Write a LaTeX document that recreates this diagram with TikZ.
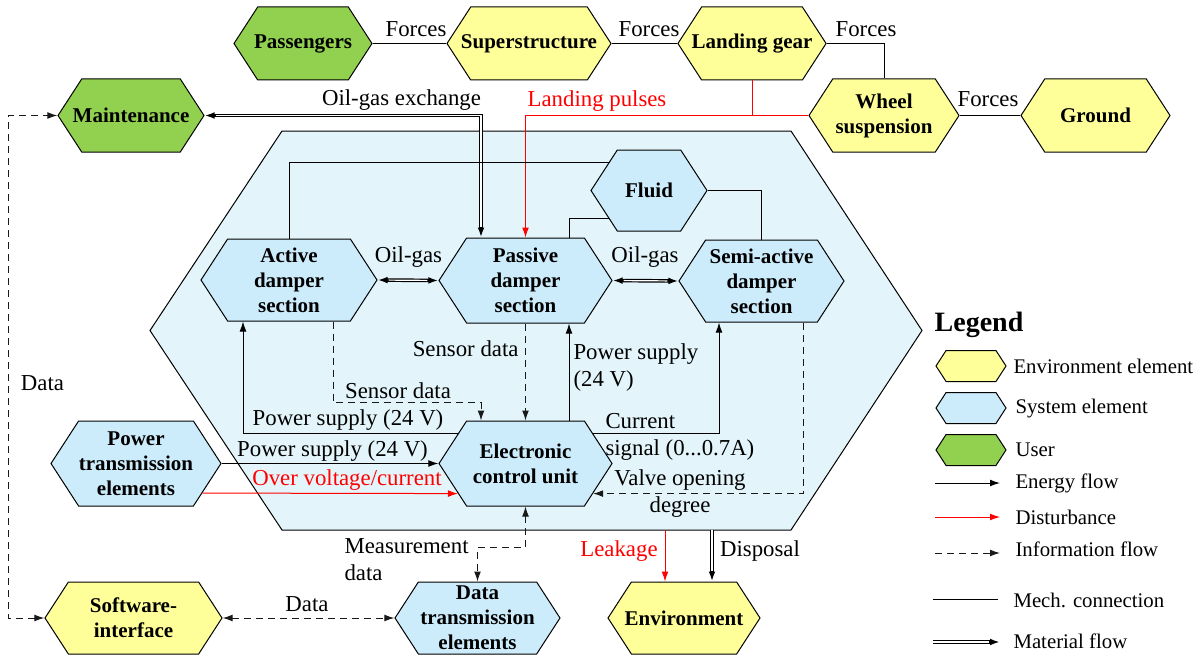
\documentclass[tikz,border=0pt]{standalone}
\usepackage{fontspec}
\setmainfont{Liberation Serif}
\usetikzlibrary{arrows.meta}
\usetikzlibrary{shapes.symbols}
\usetikzlibrary{calc}
\definecolor{envyellow}{RGB}{255,255,153}
\definecolor{sysblue}{RGB}{204,236,252}
\definecolor{usergreen}{RGB}{146,208,80}
\definecolor{bndblue}{RGB}{227,245,250}
\definecolor{infogray}{RGB}{25,25,25}
\tikzset{hex/.style = {shape=signal, signal to=east and west, signal pointer angle=114,
                       draw, inner xsep=-5pt, inner ysep=0pt, align=center,
                       font=\fontsize{10.5}{12.5}\selectfont\bfseries},
         hexdim/.style 2 args = {minimum width=#1*0.5pt, minimum height=#2*0.5pt},
         envhex/.style = {hex, fill=envyellow},
         syshex/.style = {hex, fill=sysblue},
         userhex/.style = {hex, fill=usergreen},
         lbl/.style = {inner sep=0pt, font=\fontsize{11.4}{13.5}\selectfont},
         redlbl/.style = {lbl, text=red},
         leglbl/.style = {inner sep=0pt, anchor=west, font=\fontsize{10.4}{12}\selectfont},
         energy/.style = {->},
         disturb/.style = {->, red},
         info/.style = {->, infogray, dash pattern=on 3.5pt off 2.5pt},
         matflow/.style = {->, line width=1.8pt,
                           postaction={draw=white, line width=0.6pt, -, shorten >=5.5pt}},
         matflowboth/.style = {<->, line width=1.8pt,
                               postaction={draw=white, line width=0.6pt, -, shorten >=5.5pt, shorten <=5.5pt}}}

\begin{document}
\begin{tikzpicture}[x=0.5pt, y=-0.5pt, line width=0.5pt, >={Latex[length=5pt, width=3.4pt]}]
  \useasboundingbox (0,0) rectangle (1197,658);

  % system boundary
  \draw[fill=bndblue] (150,330.5) -- (282,131) -- (791,131) -- (922,330.5) -- (791,530) -- (282,530) -- cycle;

  % environment and users
  \node[userhex, hexdim={138}{73}] (pass) at (303,43.5) {Passengers};
  \node[envhex, hexdim={164}{73}] (super) at (529,43.5) {Superstructure};
  \node[envhex, hexdim={146}{73}] (gear) at (752,43.5) {Landing gear};
  \node[envhex, hexdim={150}{73}] (wheel) at (884,115.5) {Wheel\\suspension};
  \node[envhex, hexdim={149}{73}] (ground) at (1095.5,115.5) {Ground};
  \node[userhex, hexdim={146}{73}] (maint) at (131,115.5) {Maintenance};
  \node[envhex, hexdim={177}{72}] (soft) at (133.5,618) {Software-\\interface};
  \node[envhex, hexdim={152}{72}] (env) at (684,618) {Environment};

  % system elements
  \node[syshex, hexdim={116}{81}] (fluid) at (649,190.5) {Fluid};
  \node[syshex, hexdim={176}{82}] (active) at (289,280) {Active\\damper\\section};
  \node[syshex, hexdim={173}{85}] (passive) at (525.5,280.5) {Passive\\damper\\section};
  \node[syshex, hexdim={165}{82}] (semi) at (761.5,281) {Semi-active\\damper\\section};
  \node[syshex, hexdim={173}{85}] (ecu) at (525.5,463.5) {Electronic\\control unit};
  \node[syshex, hexdim={170}{85}] (power) at (136,463.5) {Power\\transmission\\elements};
  \node[syshex, hexdim={165}{72}] (datatr) at (477.5,618) {Data\\transmission\\elements};

  % forces
  \draw (pass.east) -- (super.west);
  \draw (super.east) -- (gear.west);
  \draw (gear.east) -| (wheel.north);
  \draw (wheel.east) -- (ground.west);
  \node[lbl] (f1) at (416,29) {Forces};
  \node[lbl] (f2) at (649,29) {Forces};
  \node[lbl] (f3) at (866,29) {Forces};
  \node[lbl] (f4) at (988,99) {Forces};

  % landing pulses
  \draw[disturb] (wheel.west) -| (passive.north);
  \draw[red] (gear.south) -- (gear.south |- wheel.west);
  \node[redlbl] (pulses) at (597,101) {Landing pulses};

  % oil-gas exchange
  \draw[matflowboth] (maint.east) -| ($(passive.north)+(-44.5,0)$);
  \node[lbl] (oilex) at (401.5,100) {Oil-gas exchange};
  \draw[matflowboth] (active.east) -- (passive.west);
  \draw[matflowboth] (passive.east) -- (semi.west);
  \node[lbl] (oil1) at (408.5,257) {Oil-gas};
  \node[lbl] (oil2) at (645,257) {Oil-gas};

  % fluid
  \draw (active.north) |- (fluid.145);
  \draw ($(passive.north)+(43.5,0)$) |- (fluid.215);
  \draw (fluid.east) -| (semi.north);

  % power supply
  \draw[energy] (ecu.156) -| ($(active.south)+(-46,0)$);
  \node[lbl] (ps1) at (348,420) {Power supply (24 V)};
  \draw[energy] ($(ecu.north)+(43.5,0)$) -- ($(passive.south)+(43.5,0)$);
  \node[lbl, align=left, anchor=west] (ps2) at (573,368) {Power supply\\(24 V)};
  \draw[energy] (ecu.24) -| ($(semi.south)+(-42.5,0)$);
  \node[lbl, align=left, anchor=west] (cur) at (605,437) {Current\\signal (0...0.7A)};
  \draw[energy] (power.east) -- (ecu.west);
  \node[lbl] (ps3) at (332.5,451) {Power supply (24 V)};
  \draw[disturb] (power.336) -- (ecu.204);
  \node[redlbl] (over) at (347,480) {Over voltage/current};

  % sensor and control data
  \draw[info] (passive.south) -- (ecu.north);
  \node[lbl, anchor=east] (sd1) at (519,349) {Sensor data};
  \draw[info] ($(active.south)+(44,0)$) -- ++(0,80.7) -| ($(ecu.north)+(-44.5,0)$);
  \node[lbl] (sd2) at (398,391) {Sensor data};
  \draw[info] ($(semi.south)+(41.5,0)$) |- (ecu.336);
  \node[lbl, align=center] (valve) at (680,494) {Valve opening\\degree};
  \draw[info, <->] (ecu.south) -- ++(0,40.7) -| (datatr.north);
  \node[lbl, align=left, anchor=west] (meas) at (344,559.5) {Measurement\\data};
  \draw[info, <->] (soft.east) -- (datatr.west);
  \node[lbl] (data1) at (307,604) {Data};
  \draw[info, <->] (soft.west) -- ++(-36,0) |- (maint.west);
  \node[lbl] (data2) at (42.5,383) {Data};

  % outflow to the environment
  \coordinate (leak) at (665,530);
  \coordinate (disp) at (712,530);
  \draw[disturb] (leak) -- (leak |- env.north);
  \draw[matflow] (disp) -- (disp |- env.north);
  \node[redlbl] (leaklbl) at (619,551) {Leakage};
  \node[lbl] (displbl) at (760,551) {Disposal};

  % legend
  \node[inner sep=0pt, font=\fontsize{14}{16}\selectfont\bfseries] (legend) at (979,325) {Legend};
  \node[envhex, hexdim={70}{31}] (lenv) at (971,366) {};
  \node[leglbl] (lenvt) at (1013,366) {Environment element};
  \node[syshex, hexdim={70}{31}] (lsys) at (971,408) {};
  \node[leglbl] (lsyst) at (1015,409) {System element};
  \node[userhex, hexdim={70}{31}] (luser) at (971,450) {};
  \node[leglbl] (lusert) at (1015,450) {User};
  \coordinate (en1) at (935,483);   \coordinate (en2) at (1000,483);
  \coordinate (di1) at (935,517);   \coordinate (di2) at (1000,517);
  \coordinate (in1) at (935,553);   \coordinate (in2) at (1000,553);
  \coordinate (me1) at (933,599);   \coordinate (me2) at (998,599);
  \coordinate (ma1) at (933,642);   \coordinate (ma2) at (1000,642);
  \draw[energy] (en1) -- (en2);
  \draw[disturb] (di1) -- (di2);
  \draw[info] (in1) -- (in2);
  \draw (me1) -- (me2);
  \draw[matflow] (ma1) -- (ma2);
  \node[leglbl] (lent) at (1015,483) {Energy flow};
  \node[leglbl] (ldit) at (1015,517) {Disturbance};
  \node[leglbl] (lint) at (1015,549) {Information flow};
  \node[leglbl] (lmet) at (1013,600) {Mech. connection};
  \node[leglbl] (lmat) at (1013,641) {Material flow};
\end{tikzpicture}
\end{document}
